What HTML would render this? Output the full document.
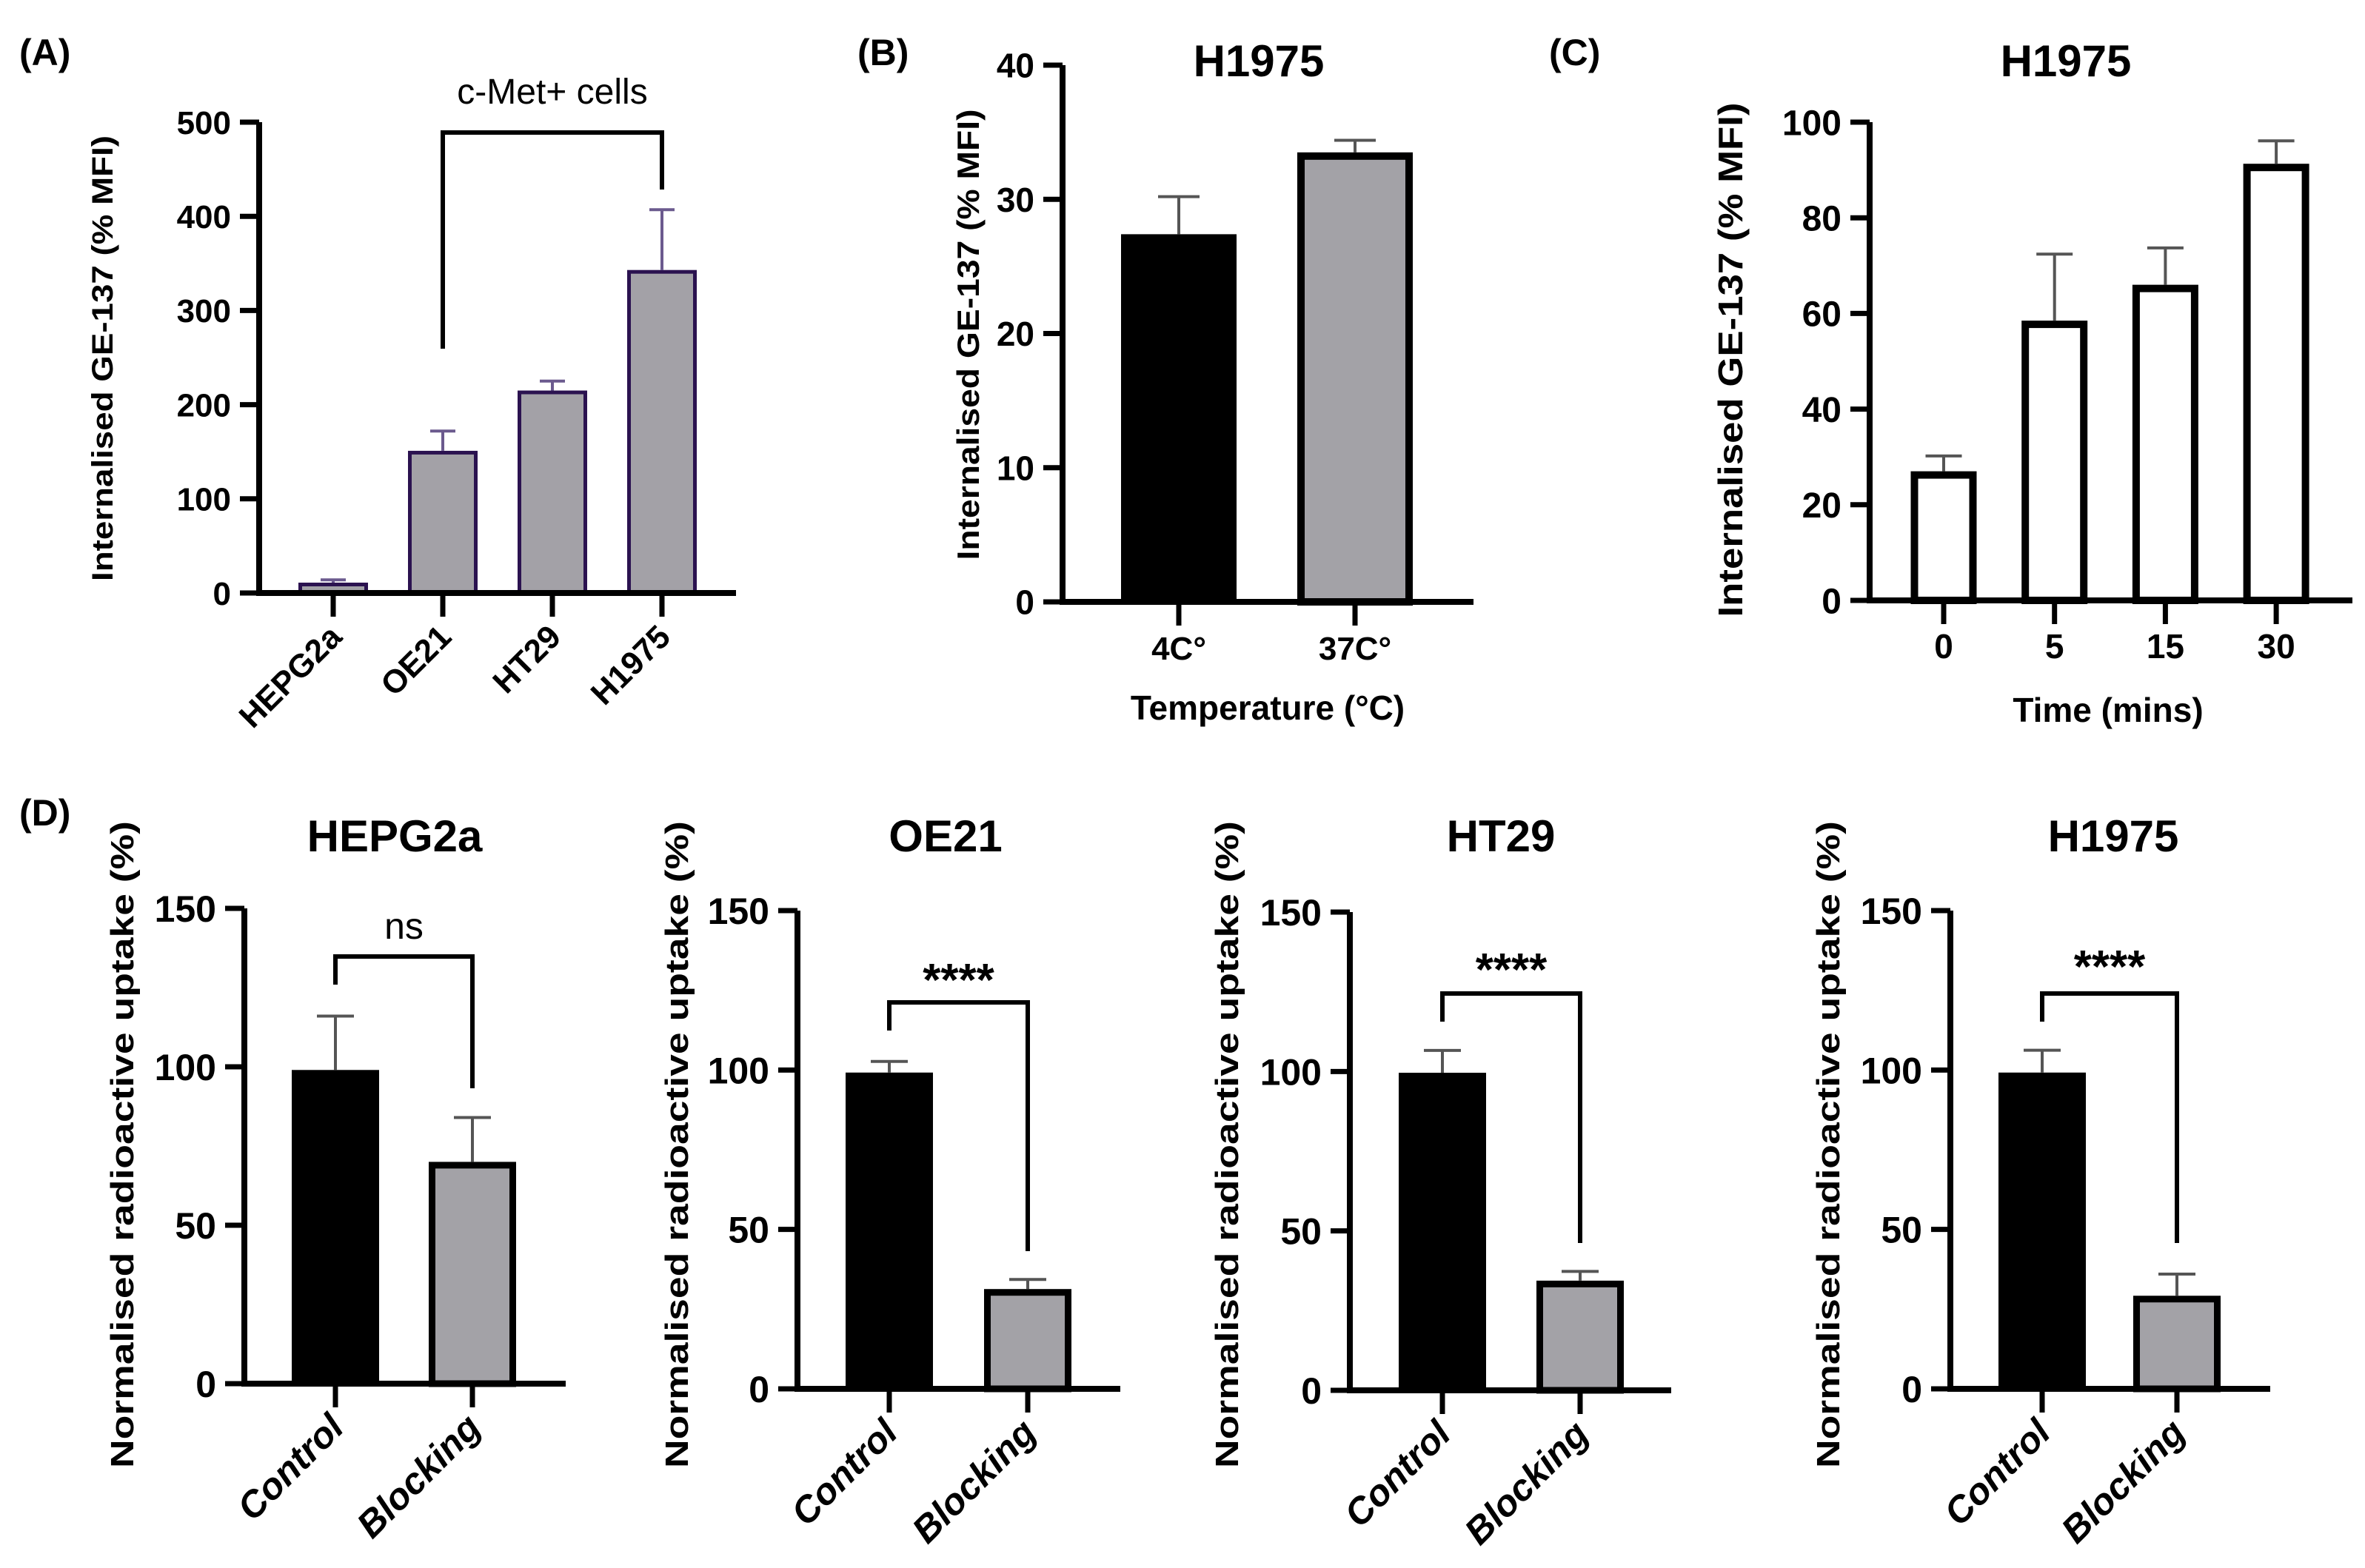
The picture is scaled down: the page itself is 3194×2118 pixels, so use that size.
<!DOCTYPE html>
<html><head><meta charset="utf-8"><style>
html,body{margin:0;padding:0;background:#fff}
svg{display:block}
text{font-family:"Liberation Sans",Arial,sans-serif;fill:#000}
</style></head><body>
<svg id="fig" width="3194" height="2118" viewBox="0 0 3194 2118" xmlns="http://www.w3.org/2000/svg">
<rect width="3194" height="2118" fill="#fff"/>
<text x="26" y="88" font-size="50" font-weight="bold">(A)</text>
<text x="1158" y="88" font-size="50" font-weight="bold">(B)</text>
<text x="2092" y="88" font-size="50" font-weight="bold">(C)</text>
<text x="26" y="1115" font-size="50" font-weight="bold">(D)</text>
</svg>
<script>
// Panel A data
const catsA = ["HEPG2a","OE21","HT29","H1975"];
const valsA = [11, 151, 215, 343];
const errsA = [14, 172, 225, 407];
const ticksA = [0,100,200,300,400,500];
// Panel B data
const catsB = ["4C\u00B0","37C\u00B0"];
const valsB = [27.4, 33.5];
const errsB = [30.2, 34.4];
const ticksB = [0,10,20,30,40];
// Panel C data
const catsC = ["0","5","15","30"];
const valsC = [27, 58.5, 66, 91.3];
const errsC = [30.2, 72.4, 73.7, 96.1];
const ticksC = [0,20,40,60,80,100];
// Panel D data
const catsD = ["Control","Blocking"];
const ticksD = [0,50,100,150];
const valsD1 = [99, 70];   const errsD1 = [116, 84];
const valsD2 = [99.2, 31.3]; const errsD2 = [102.7, 34.3];
const valsD3 = [99.6, 34.4]; const errsD3 = [106.6, 37.3];
const valsD4 = [99.2, 29.2]; const errsD4 = [106.2, 36];

const NS="http://www.w3.org/2000/svg";
const svg=document.getElementById('fig');
function mk(tag,attrs,parent){const e=document.createElementNS(NS,tag);for(const k in attrs)e.setAttribute(k,attrs[k]);(parent||svg).appendChild(e);return e;}

function panel(o){
  const g=mk('g',{});
  
  
  const ymax=o.ticks[o.ticks.length-1];
  const y=v=>o.y0-(v/ymax)*(o.y0-o.yTop);
  const x=i=>o.c0+i*o.step;
  o.vals.forEach((v,i)=>{
    const st=o.barStyle[i];
    const sw=st.sw;
    const r=mk('rect',{x:x(i)-o.bw/2+sw/2,y:y(v)+sw/2,width:o.bw-sw,height:Math.max(0,o.y0-y(v)-sw/2),fill:st.fill,stroke:st.stroke,'stroke-width':sw},g);
    
    
    const e=o.errs[i];
    const eb=mk('path',{d:`M${x(i)},${y(v)} V${y(e)} M${x(i)-o.cap/2},${y(e)} H${x(i)+o.cap/2}`,stroke:o.errColor,'stroke-width':4,fill:'none'},g);
    
    
  });
  const ax=mk('path',{d:`M${o.ax},${o.yTop} V${o.y0} M${o.ax-4},${o.y0} H${o.xEnd}`,stroke:'#000','stroke-width':8,fill:'none'},g);
  
  
  o.ticks.forEach(t=>{
    mk('line',{x1:o.ax-26,x2:o.ax,y1:y(t),y2:y(t),stroke:'#000','stroke-width':7},g);
    const tl=mk('text',{x:o.ax-38,y:y(t)+o.tfs*0.36,'text-anchor':'end','font-size':o.tfs,'font-weight':'bold'},g);
    tl.textContent=t;
    
    
  });
  o.cats.forEach((c,i)=>{
    mk('line',{x1:x(i),x2:x(i),y1:o.y0,y2:o.y0+32,stroke:'#000','stroke-width':7},g);
    let t;
    if(o.rot){
      const ex=x(i)+14, ey=o.y0+62;
      t=mk('text',{x:ex,y:ey,'text-anchor':'end','font-size':o.xfs,'font-weight':'bold',transform:`rotate(-45 ${ex} ${ey})`,'font-style':o.italic?'italic':'normal'},g);
    } else {
      t=mk('text',{x:x(i),y:o.y0+78,'text-anchor':'middle','font-size':o.xfs,'font-weight':'bold'},g);
    }
    t.textContent=c;
    
    
  });
  const yl=mk('text',{x:0,y:0,'text-anchor':'middle','font-size':o.ylfs,'font-weight':'bold',textLength:o.ylLen,lengthAdjust:'spacingAndGlyphs',transform:`translate(${o.ylx},${o.yly}) rotate(-90)`},g);
  yl.textContent=o.ylabel;
  
  
  if(o.title){
    const tt=mk('text',{x:o.titleX,y:o.titleY,'text-anchor':'middle','font-size':60,'font-weight':'bold'},g);
    tt.textContent=o.title;
    
    
  }
  if(o.xtitle){
    const xt=mk('text',{x:o.xtX,y:o.xtY,'text-anchor':'middle','font-size':46,'font-weight':'bold'},g);
    xt.textContent=o.xtitle;
    
    
  }
  if(o.sig){
    const s=o.sig;
    const br=mk('path',{d:`M${x(s.a)},${s.ya} V${s.top} H${x(s.b)} V${s.yb}`,stroke:'#000','stroke-width':6,fill:'none'},g);
    
    
    const st=mk('text',{x:(x(s.a)+x(s.b))/2,y:s.ty,'text-anchor':'middle','font-size':s.fs,'font-weight':s.bold?'bold':'normal'},g);
    st.textContent=s.label;
    
    
  }
}

const purple={fill:'#a3a1a7',stroke:'#2b1250',sw:5};
panel({name:'panel-a',cats:catsA,vals:valsA,errs:errsA,ticks:ticksA,ax:350,y0:801,yTop:165,xEnd:994,c0:450,step:148,bw:94,cap:34,
  barStyle:[purple,purple,purple,purple],errColor:'#6b5a8e',tfs:44,xfs:44,rot:true,italic:false,
  ylabel:'Internalised GE-137 (% MFI)',ylfs:40,ylLen:602,ylx:152,yly:484,
  sig:{a:1,b:3,ya:471,yb:256,top:179,label:'c-Met+ cells',ty:140,fs:48,bold:false}});

panel({name:'panel-b',cats:catsB,vals:valsB,errs:errsB,ticks:ticksB,ax:1435,y0:813,yTop:88,xEnd:1990,c0:1592,step:238,bw:156,cap:56,
  barStyle:[{fill:'#000',stroke:'#000',sw:2},{fill:'#a3a2a7',stroke:'#000',sw:10}],errColor:'#555',tfs:46,xfs:44,rot:false,
  ylabel:'Internalised GE-137 (% MFI)',ylfs:42,ylLen:609,ylx:1322,yly:452,
  title:'H1975',titleX:1700,titleY:103,xtitle:'Temperature (\u00B0C)',xtX:1712,xtY:972});

const wht={fill:'#fff',stroke:'#000',sw:10};
panel({name:'panel-c',cats:catsC,vals:valsC,errs:errsC,ticks:ticksC,ax:2525,y0:811,yTop:165,xEnd:3177,c0:2625,step:149.7,bw:89,cap:49,
  barStyle:[wht,wht,wht,wht],errColor:'#555',tfs:48,xfs:46,rot:false,
  ylabel:'Internalised GE-137 (%  MFI)',ylfs:46,ylLen:695,ylx:2353,yly:486,
  title:'H1975',titleX:2790,titleY:103,xtitle:'Time (mins)',xtX:2847,xtY:975});

const blk={fill:'#000',stroke:'#000',sw:2}, gry={fill:'#a3a2a7',stroke:'#000',sw:9};
const dCfg=[
  {name:'panel-d-hepg2a',vals:valsD1,errs:errsD1,ax:330,y0:1869,yTop:1227,xEnd:764,c0:453,step:185,ylx:180,title:'HEPG2a',tx:533,sig:{ya:1330,yb:1470,top:1292,label:'ns',ty:1268,fs:50,bold:false}},
  {name:'panel-d-oe21',vals:valsD2,errs:errsD2,ax:1077,y0:1876,yTop:1230,xEnd:1513,c0:1201,step:187,ylx:929,title:'OE21',tx:1277,sig:{ya:1392,yb:1690,top:1354,label:'****',ty:1345,fs:62,bold:true}},
  {name:'panel-d-ht29',vals:valsD3,errs:errsD3,ax:1823,y0:1878,yTop:1232,xEnd:2257,c0:1948,step:186,ylx:1672,title:'HT29',tx:2027,sig:{ya:1380,yb:1679,top:1342,label:'****',ty:1331,fs:62,bold:true}},
  {name:'panel-d-h1975',vals:valsD4,errs:errsD4,ax:2634,y0:1876,yTop:1230,xEnd:3066,c0:2758,step:182,ylx:2484,title:'H1975',tx:2854,sig:{ya:1380,yb:1679,top:1342,label:'****',ty:1327,fs:62,bold:true}}
];
dCfg.forEach(d=>{
  panel({name:d.name,cats:catsD,vals:d.vals,errs:d.errs,ticks:ticksD,ax:d.ax,y0:d.y0,yTop:d.yTop,xEnd:d.xEnd,c0:d.c0,step:d.step,bw:118,cap:50,
    barStyle:[blk,gry],errColor:'#555',tfs:50,xfs:50,rot:true,italic:true,
    ylabel:'Normalised radioactive uptake  (%)',ylfs:44,ylLen:874,ylx:d.ylx,yly:1546,
    title:d.title,titleX:d.tx,titleY:1150,sig:Object.assign({a:0,b:1},d.sig)});
});
</script>
</body></html>
